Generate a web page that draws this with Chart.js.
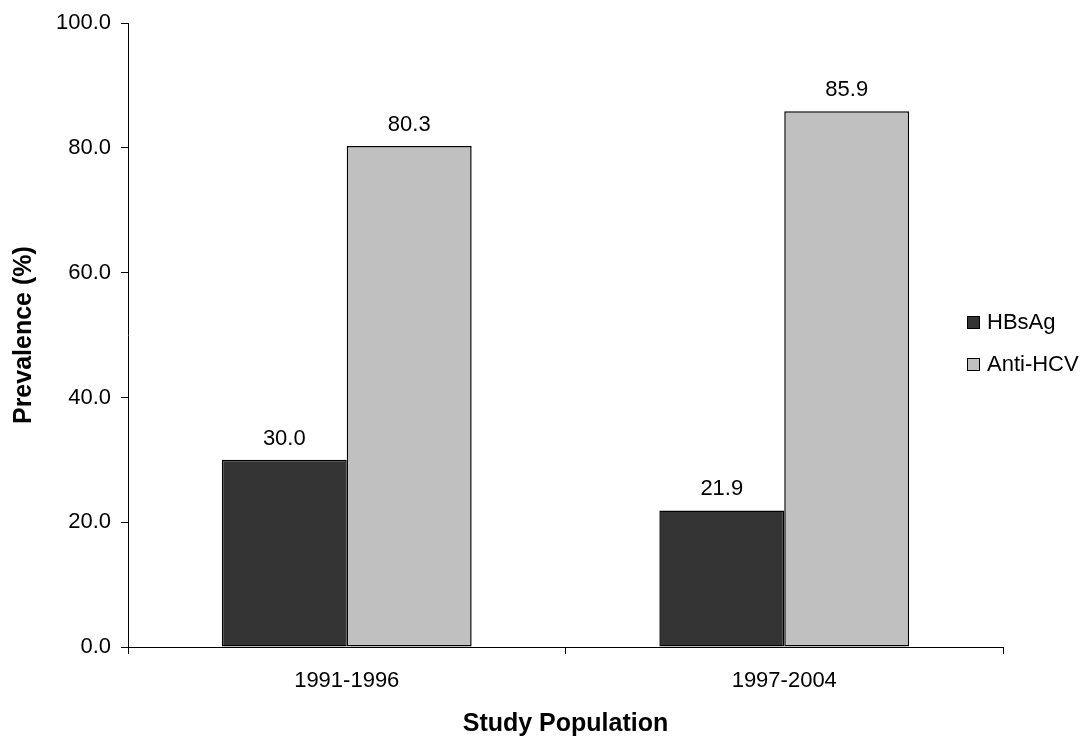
<!DOCTYPE html>
<html>
<head>
<meta charset="utf-8">
<script src="https://cdn.jsdelivr.net/npm/chart.js@4"></script>
<style>
  html, body { margin: 0; padding: 0; background: #fff; }
  #wrap { width: 1089px; height: 741px; }
</style>
</head>
<body>
<div id="wrap"><canvas id="prev" width="1089" height="741"></canvas></div>
<script>
const periods = ['1991-1996', '1997-2004']
const hbsag = [30.0, 21.9]
const antiHcv = [80.3, 85.9]
const yTicks = [0, 20, 40, 60, 80, 100]

const FONT = "'Liberation Sans', Arial, sans-serif"

// value labels above each bar
const barLabels = {
    id: 'barLabels',
    afterDatasetsDraw(chart) {
        const ctx = chart.ctx
        ctx.save()
        ctx.font = '22px ' + FONT
        ctx.fillStyle = '#000'
        ctx.textAlign = 'center'
        ctx.textBaseline = 'alphabetic'
        chart.data.datasets.forEach((ds, i) => {
            chart.getDatasetMeta(i).data.forEach((bar, j) => {
                ctx.fillText(ds.data[j].toFixed(1), bar.x, bar.y - 15)
            })
        })
        ctx.restore()
    }
}

// legend sitting at the right, over the plot edge
const sideLegend = {
    id: 'sideLegend',
    afterDraw(chart) {
        const ctx = chart.ctx
        ctx.save()
        ctx.font = '22px ' + FONT
        ctx.textBaseline = 'middle'
        ctx.textAlign = 'left'
        chart.data.datasets.forEach((ds, i) => {
            const cy = 322 + i * 42
            ctx.fillStyle = ds.backgroundColor
            ctx.fillRect(967.5, cy - 5.5, 12, 12)
            ctx.strokeStyle = '#000'
            ctx.lineWidth = 1
            ctx.strokeRect(967.5, cy - 5.5, 12, 12)
            ctx.fillStyle = '#000'
            ctx.fillText(ds.label, 987, cy + 1)
        })
        ctx.restore()
    }
}

new Chart(document.getElementById('prev').getContext('2d'), {
    type: 'bar',
    data: {
        labels: periods,
        datasets: [
            { label: 'HBsAg', data: hbsag, backgroundColor: '#333333', borderColor: '#000', borderWidth: 1.5, borderSkipped: false },
            { label: 'Anti-HCV', data: antiHcv, backgroundColor: '#C0C0C0', borderColor: '#000', borderWidth: 1.5, borderSkipped: false }
        ]
    },
    options: {
        responsive: false,
        animation: false,
        devicePixelRatio: 1,
        layout: { padding: { left: 0, top: 20, right: 86, bottom: 0 } },
        datasets: { bar: { categoryPercentage: 0.571, barPercentage: 1 } },
        plugins: { legend: { display: false }, tooltip: { enabled: false } },
        scales: {
            x: {
                afterFit: s => { s.height = 94 },
                grid: { display: true, drawOnChartArea: false, drawTicks: true, tickLength: 7, color: '#000', offset: true },
                border: { display: true, color: '#000', width: 1 },
                ticks: { color: '#000', font: { family: FONT, size: 22 }, padding: 14, maxRotation: 0 },
                title: { display: true, text: 'Study Population', color: '#000', font: { family: FONT, size: 25, weight: 'bold' }, padding: { top: 0, bottom: 2 } }
            },
            y: {
                min: 0,
                max: 100,
                afterFit: s => { s.width = 128 },
                afterBuildTicks: s => { s.ticks = yTicks.map(v => ({ value: v })) },
                grid: { display: true, drawOnChartArea: false, drawTicks: true, tickLength: 7, color: '#000' },
                border: { display: true, color: '#000', width: 1 },
                ticks: { color: '#000', font: { family: FONT, size: 22 }, padding: 10, callback: v => v.toFixed(1) },
                title: { display: true, text: 'Prevalence (%)', color: '#000', font: { family: FONT, size: 25, weight: 'bold' }, padding: { top: 9, bottom: 0 } }
            }
        }
    },
    plugins: [barLabels, sideLegend]
})
</script>
</body>
</html>
